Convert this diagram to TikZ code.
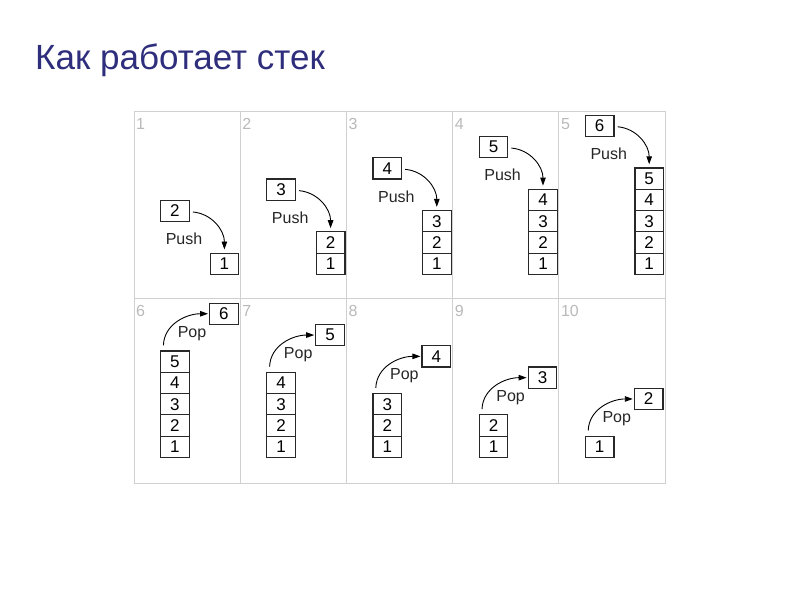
\documentclass[tikz,border=0pt]{standalone}
\usepackage{fontspec}
\setmainfont{Liberation Sans}
\usetikzlibrary{arrows.meta}
\definecolor{titleblue}{RGB}{46,46,124}
\definecolor{gridgray}{RGB}{208,208,208}
\definecolor{numgray}{RGB}{185,185,185}
\definecolor{boxline}{RGB}{40,40,40}
\begin{document}
\begin{tikzpicture}[x=1pt,y=-1pt,
  cell/.style={draw=boxline,line width=1.2pt,minimum width=28.6pt,minimum height=21.3pt,inner sep=0pt,font=\fontsize{17}{17}\selectfont},
  lab/.style={inner sep=0pt,font=\fontsize{16}{16}\selectfont,text=black!85},
  num/.style={inner sep=0pt,font=\fontsize{16}{16}\selectfont,text=numgray,anchor=west},
  arr/.style={line width=0.9pt,-{Triangle[length=8pt,width=5.5pt]}},
  grid/.style={draw=gridgray,line width=1pt},
  ttl/.style={inner sep=0pt,font=\fontsize{35}{35}\selectfont,text=titleblue,anchor=base west}]
\useasboundingbox (0,0) rectangle (800,600);
\node[ttl] (title) at (35,69) {Как работает стек};
% grid
\draw[grid] (134,111) rectangle (665,483);
\draw[grid] (134,298) -- (665,298);
\foreach \j in {1,...,4} {
  \draw[grid] ({134+106.2*\j},111) -- ({134+106.2*\j},483);
}
% top row: push
\foreach \k in {1,...,5} {
  \pgfmathsetmacro\PL{134+106.2*(\k-1)}
  \pgfmathsetmacro\ST{275-21.3*\k}
  \pgfmathtruncatemacro\nx{\k+1}
  \node[num] (p\k-n) at ({\PL+2},124) {\k};
  \foreach \i in {1,...,\k} {
    \node[cell,anchor=south west] (p\k-\i) at ({\PL+75.5},{275-21.3*(\i-1)}) {\i};
  }
  \node[cell,anchor=north west] (p\k-b) at ({\PL+26},{\ST-54}) {\nx};
  \node[lab] (p\k-l) at ({\PL+50},{\ST-54+21.3+18}) {Push};
  \draw[arr] ([xshift=3pt,yshift=-1pt]p\k-b.east) to[out=-5,in=90] ([yshift=3pt]p\k-\k.north);
}
% bottom row: pop
\foreach \k in {6,...,10} {
  \pgfmathsetmacro\PL{134+106.2*(\k-6)}
  \pgfmathtruncatemacro\m{11-\k}
  \pgfmathsetmacro\ST{458-21.3*\m}
  \pgfmathtruncatemacro\nx{\m+1}
  \node[num] (p\k-n) at ({\PL+2},311) {\k};
  \foreach \i in {1,...,\m} {
    \node[cell,anchor=south west] (p\k-\i) at ({\PL+26},{458-21.3*(\i-1)}) {\i};
  }
  \node[cell,anchor=north west] (p\k-b) at ({\PL+75},{\ST-49}) {\nx};
  \node[lab] (p\k-l) at ({\PL+58},{\ST-18}) {Pop};
  \draw[arr] ([xshift=-11.5pt,yshift=5pt]p\k-\m.north) to[out=88,in=180] ([xshift=-1pt]p\k-b.west);
}
\end{tikzpicture}
\end{document}
